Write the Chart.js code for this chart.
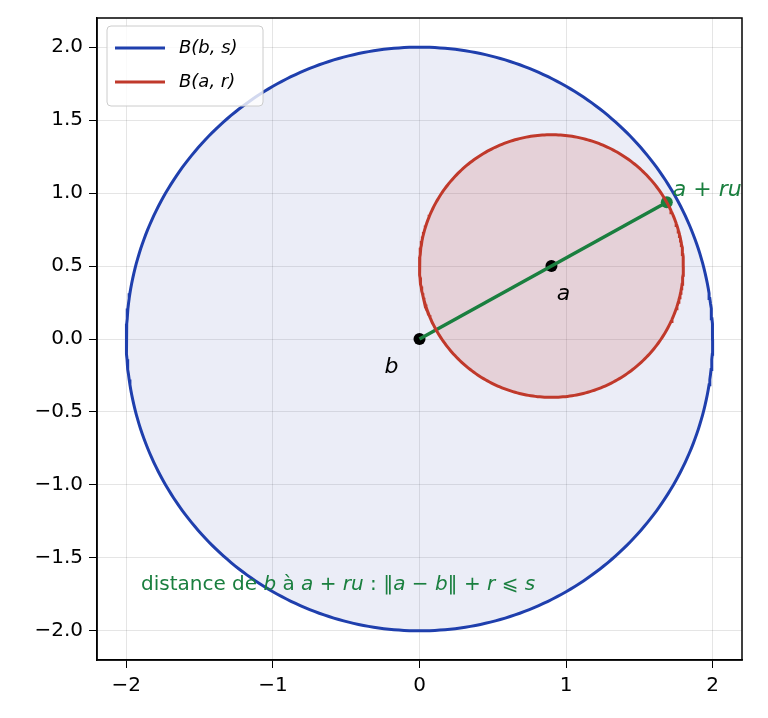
<!DOCTYPE html><html><head><meta charset="utf-8">
<script src="https://cdn.jsdelivr.net/npm/chart.js@4"></script>
<style>html,body{margin:0;background:#fff}#w{width:768px;height:718px}</style></head><body>
<div id="w"><canvas id="c"></canvas></div>
<script>
const bigCenter=[0,0], bigRadius=2;
const smallCenter=[0.9,0.5], smallRadius=0.9;
const pointB=[0,0], pointA=[0.9,0.5], pointARU=[1.687,0.937];
const xTicks=[-2,-1,0,1,2];
const yTicks=[-2,-1.5,-1,-0.5,0,0.5,1,1.5,2];
function circle(c,r){const p=[];for(let i=0;i<=360;i++){const t=2*Math.PI*i/360;p.push({x:c[0]+r*Math.cos(t),y:c[1]+r*Math.sin(t)});}return p;}
const fmt=v=>{const s=(Math.abs(v)).toFixed(1);return (v<0?'\u2212':'')+s;};
const fmtX=v=>(v<0?'\u2212':'')+Math.abs(v);
const F='DejaVu Sans';
const fillPlug={id:'fp',beforeDatasetsDraw(ch){const ctx=ch.ctx;[0,1].forEach(i=>{const m=ch.getDatasetMeta(i);ctx.save();ctx.beginPath();m.data.forEach((p,j)=>j?ctx.lineTo(p.x,p.y):ctx.moveTo(p.x,p.y));ctx.closePath();ctx.fillStyle=ch.data.datasets[i].fillC;ctx.fill();ctx.restore();});},
afterDatasetsDraw(ch){const ctx=ch.ctx,xs=ch.scales.x,ys=ch.scales.y,a=ch.chartArea;
 const t=(s,x,y,dx,dy,col,al)=>{ctx.fillStyle=col;ctx.textAlign=al||'left';ctx.textBaseline='middle';ctx.fillText(s,xs.getPixelForValue(x)+dx,ys.getPixelForValue(y)+dy);};
 ctx.save();ctx.font='italic 22px '+F;
 t('a',pointA[0],pointA[1],12,28,'#000','center');
 t('b',pointB[0],pointB[1],-28,28,'#000','center');
 t('a + ru',pointARU[0],pointARU[1],6,-12,'#1a7f3f','left');
 // bottom annotation with mixed styles
 const segs=[['distance de ',0],['b',1],[' à ',0],['a',1],[' + ',0],['ru',1],[' : \u2016',0],['a',1],[' \u2212 ',0],['b',1],['\u2016 + ',0],['r',1],[' \u2a7d ',0],['s',1]];
 let px=xs.getPixelForValue(-1.9),py=ys.getPixelForValue(-1.7)-2;ctx.fillStyle='#1a7f3f';ctx.textAlign='left';ctx.textBaseline='middle';
 segs.forEach(([s,it])=>{ctx.font=(it?'italic ':'')+'20px '+F;ctx.fillText(s,px,py);px+=ctx.measureText(s).width;});
 // legend
 const lx=a.left+10,ly=a.top+8;ctx.strokeStyle='#ccc';ctx.lineWidth=1;ctx.fillStyle='rgba(255,255,255,0.8)';
 ctx.beginPath();ctx.roundRect(lx,ly,156,80,4);ctx.fill();ctx.stroke();
 [['B(b, s)','#1f3fad',ly+22],['B(a, r)','#c0392b',ly+56]].forEach(([s,c,y])=>{ctx.strokeStyle=c;ctx.lineWidth=3;ctx.beginPath();ctx.moveTo(lx+8,y);ctx.lineTo(lx+58,y);ctx.stroke();ctx.fillStyle='#000';ctx.font='italic 18px '+F;ctx.textBaseline='middle';ctx.fillText(s,lx+72,y);});
 ctx.strokeStyle='#000';ctx.lineWidth=1.5;ctx.strokeRect(a.left,a.top,a.right-a.left,a.bottom-a.top);
 ctx.restore();}};
new Chart(document.getElementById('c'),{type:'scatter',plugins:[fillPlug],data:{datasets:[
 {data:circle(bigCenter,bigRadius),showLine:true,borderColor:'#1f3fad',borderWidth:3,pointRadius:0,fillC:'rgba(60,80,180,0.1)'},
 {data:circle(smallCenter,smallRadius),showLine:true,borderColor:'#c0392b',borderWidth:3,pointRadius:0,fillC:'rgba(192,57,43,0.15)'},
 {data:[{x:pointB[0],y:pointB[1]},{x:pointARU[0],y:pointARU[1]}],showLine:true,borderColor:'#1a7f3f',borderWidth:3.5,pointRadius:0},
 {data:[{x:pointARU[0],y:pointARU[1]}],pointRadius:6,backgroundColor:'#1a7f3f',borderWidth:0},
 {data:[{x:pointB[0],y:pointB[1]},{x:pointA[0],y:pointA[1]}],pointRadius:6,backgroundColor:'#000',borderWidth:0}]},
options:{responsive:true,maintainAspectRatio:false,animation:false,layout:{padding:{left:0,right:26,top:11,bottom:14}},
 plugins:{legend:{display:false},tooltip:{enabled:false}},
 scales:{x:{type:'linear',min:-2.2,max:2.2,afterBuildTicks:s=>{s.ticks=xTicks.map(v=>({value:v}));},
   ticks:{callback:fmtX,font:{family:F,size:20},color:'#000',padding:6},grid:{color:'rgba(0,0,0,0.1)',tickColor:'#000',tickLength:8},border:{color:'#000',width:1.5}},
  y:{min:-2.2,max:2.2,afterBuildTicks:s=>{s.ticks=yTicks.map(v=>({value:v}));},afterFit:s=>{s.width=97;},
   ticks:{callback:fmt,font:{family:F,size:20},color:'#000',padding:6},grid:{color:'rgba(0,0,0,0.1)',tickColor:'#000',tickLength:8},border:{color:'#000',width:1.5}}}}});
</script></body></html>
